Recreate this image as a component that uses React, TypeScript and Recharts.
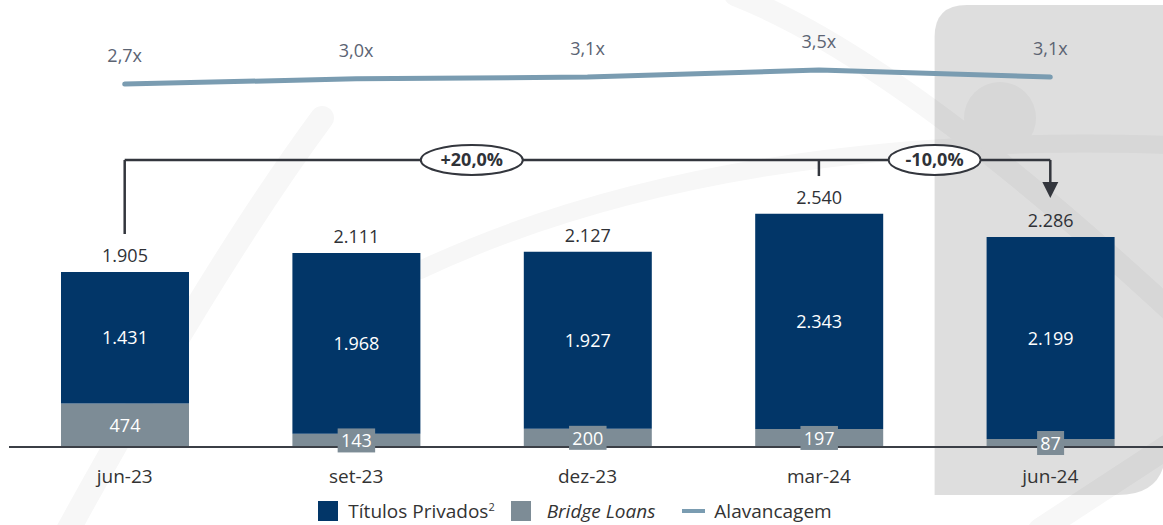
import { ComposedChart, Bar, Line, XAxis, YAxis, LabelList, Legend, ReferenceArea, ReferenceLine, ReferenceDot } from 'recharts'

const months = ['jun-23', 'set-23', 'dez-23', 'mar-24', 'jun-24']
const titulos = [1431, 1968, 1927, 2343, 2199]
const bridge = [474, 143, 200, 197, 87]
const totals = [1905, 2111, 2127, 2540, 2286]
const leverage = [2.7, 3.0, 3.1, 3.5, 3.1]

// bracket annotation (bar axis units, index axis)
const bracketLevel = 3125
const startTop = 2319
const midTick = 2950
const arrowBase = 2885
const arrowTip = 2711
const changes = [
  { at: 1.5, text: '+20,0%', rx: 51 },
  { at: 3.5, text: '-10,0%', rx: 46 },
]

const NAVY = '#023668'
const GREY = '#7d8c96'
const LINE = '#7a9cb1'
const FONT = '"Open Sans", "Noto Sans", sans-serif'

const data = months.map((m, i) => ({
  month: m,
  idx: i,
  titulos: titulos[i],
  bridge: bridge[i],
  total: totals[i],
  leverage: leverage[i],
}))

const fmt = (n: number) => (n >= 1000 ? `${Math.floor(n / 1000)}.${String(n % 1000).padStart(3, '0')}` : String(n))

function InnerLabel(p: any) {
  const { x, y, width, height, value } = p
  return (
    <text x={x + width / 2} y={y + height / 2 + 6.5} textAnchor="middle" fill="#fff" fontSize={18}>
      {fmt(value)}
    </text>
  )
}

function TotalLabel(p: any) {
  const { x, y, width, value } = p
  return (
    <text x={x + width / 2} y={y - 10} textAnchor="middle" fill="#2f3136" fontSize={18}>
      {fmt(value)}
    </text>
  )
}

function BridgeLabel(p: any) {
  const { x, y, width, height, value } = p
  const cx = x + width / 2
  const cy = y + height / 2
  const small = height < 30
  const w = String(value).length * 10.5 + 6
  return (
    <g>
      {small && <rect x={cx - w / 2} y={cy - 12} width={w} height={24} fill={GREY} />}
      <text x={cx} y={cy + 7} textAnchor="middle" fill="#fff" fontSize={18}>
        {fmt(value)}
      </text>
    </g>
  )
}

function LevLabel(p: any) {
  const { x, y, value } = p
  return (
    <text x={x} y={y - 22} textAnchor="middle" fill="#5c6473" fontSize={18}>
      {String(value.toFixed(1)).replace('.', ',') + 'x'}
    </text>
  )
}

function Highlight(p: any) {
  const { x, y, width, height } = p
  const r1 = 32
  const r2 = 48
  const d = `M${x},${y + r1} Q${x},${y} ${x + r1},${y} L${x + width},${y} L${x + width},${y + height - r2} Q${x + width},${y + height} ${x + width - r2},${y + height} L${x},${y + height} Z`
  return <path d={d} fill="#000" fillOpacity={0.13} />
}

function LegendContent() {
  return (
    <div style={{ display: 'flex', justifyContent: 'center', alignItems: 'center', height: 28, fontSize: 19, color: '#333', paddingRight: 25, fontFamily: FONT }}>
      <span style={{ width: 20, height: 20, background: NAVY, marginRight: 10, display: 'inline-block' }} />
      <span>
        Títulos Privados<sup style={{ fontSize: 11 }}>2</sup>
      </span>
      <span style={{ width: 20, height: 20, background: GREY, marginLeft: 16, marginRight: 16, display: 'inline-block' }} />
      <span style={{ fontStyle: 'italic' }}>Bridge Loans</span>
      <span style={{ width: 23, height: 4, background: LINE, marginLeft: 27, marginRight: 9, display: 'inline-block' }} />
      <span>Alavancagem</span>
    </div>
  )
}

function Swooshes() {
  return (
    <svg width={1163} height={525} style={{ position: 'absolute', left: 0, top: 0 }}>
      <g fill="none" stroke="#f7f7f7" strokeLinecap="round">
        <path d="M322,118 Q210,270 60,545" strokeWidth={24} />
        <path d="M735,-5 Q900,60 1170,310" strokeWidth={22} />
        <path d="M420,270 Q720,130 1170,145" strokeWidth={18} />
        <path d="M1170,445 L1040,530" strokeWidth={24} />
      </g>
      <circle cx={1000} cy={118} r={36} fill="#f7f7f7" />
    </svg>
  )
}

export default function App() {
  return (
    <div style={{ position: 'absolute', left: 0, top: 0, width: 1163, height: 525, overflow: 'hidden', background: '#fff', fontFamily: FONT }}>
      <Swooshes />
      <div style={{ position: 'absolute', left: 0, top: 0 }}>
        <ComposedChart width={1166} height={525} data={data} margin={{ top: 30, right: 0, bottom: 0, left: 9 }}>
          <XAxis xAxisId="n" dataKey="idx" type="number" domain={[-0.5, 4.5]} hide allowDataOverflow />
          <YAxis yAxisId="bar" domain={[0, 4540]} hide allowDataOverflow />
          <YAxis yAxisId="lev" domain={[-18.04, 5.79]} hide allowDataOverflow orientation="right" />
          <ReferenceArea xAxisId="n" yAxisId="bar" x1={3.5} x2={4.5} y1={-523} y2={4812} ifOverflow="visible" shape={<Highlight />} />
          <XAxis
            dataKey="month"
            axisLine={{ stroke: '#3b3f46', strokeWidth: 2 }}
            tickLine={false}
            tickMargin={17}
            height={50}
            tick={{ fill: '#333', fontSize: 19 }}
          />
          <Bar dataKey="bridge" stackId="a" yAxisId="bar" fill={GREY} barSize={128} isAnimationActive={false}>
            <LabelList dataKey="bridge" content={<BridgeLabel />} />
          </Bar>
          <Bar dataKey="titulos" stackId="a" yAxisId="bar" fill={NAVY} barSize={128} isAnimationActive={false}>
            <LabelList dataKey="titulos" content={<InnerLabel />} />
            <LabelList dataKey="total" content={<TotalLabel />} />
          </Bar>
          <Line
            dataKey="leverage"
            yAxisId="lev"
            stroke={LINE}
            strokeWidth={5}
            strokeLinecap="round"
            dot={false}
            type="linear"
            isAnimationActive={false}
          >
            <LabelList dataKey="leverage" content={<LevLabel />} />
          </Line>
          <ReferenceLine xAxisId="n" yAxisId="bar" segment={[{ x: 0, y: startTop }, { x: 0, y: bracketLevel }]} stroke="#33363d" strokeWidth={2.5} />
          <ReferenceLine xAxisId="n" yAxisId="bar" segment={[{ x: 0, y: bracketLevel }, { x: 4, y: bracketLevel }]} stroke="#33363d" strokeWidth={2.5} />
          <ReferenceLine xAxisId="n" yAxisId="bar" segment={[{ x: 3, y: bracketLevel }, { x: 3, y: midTick }]} stroke="#33363d" strokeWidth={2.5} />
          <ReferenceLine xAxisId="n" yAxisId="bar" segment={[{ x: 4, y: bracketLevel }, { x: 4, y: arrowBase }]} stroke="#33363d" strokeWidth={2.5} />
          <ReferenceDot
            xAxisId="n"
            yAxisId="bar"
            x={4}
            y={arrowTip}
            shape={(p: any) => <polygon points={`${p.cx - 8},${p.cy - 16} ${p.cx + 8},${p.cy - 16} ${p.cx},${p.cy}`} fill="#33363d" />}
          />
          {changes.map((c) => (
            <ReferenceDot
              key={c.text}
              xAxisId="n"
              yAxisId="bar"
              x={c.at}
              y={bracketLevel}
              shape={(p: any) => (
                <g>
                  <ellipse cx={p.cx} cy={p.cy} rx={c.rx} ry={15} fill="#fff" stroke="#33363d" strokeWidth={2} />
                  <text x={p.cx} y={p.cy + 6.5} textAnchor="middle" fontWeight={700} fontSize={18} fill="#2f3238">
                    {c.text}
                  </text>
                </g>
              )}
            />
          ))}
          <Legend verticalAlign="bottom" content={<LegendContent />} />
        </ComposedChart>
      </div>
    </div>
  )
}
